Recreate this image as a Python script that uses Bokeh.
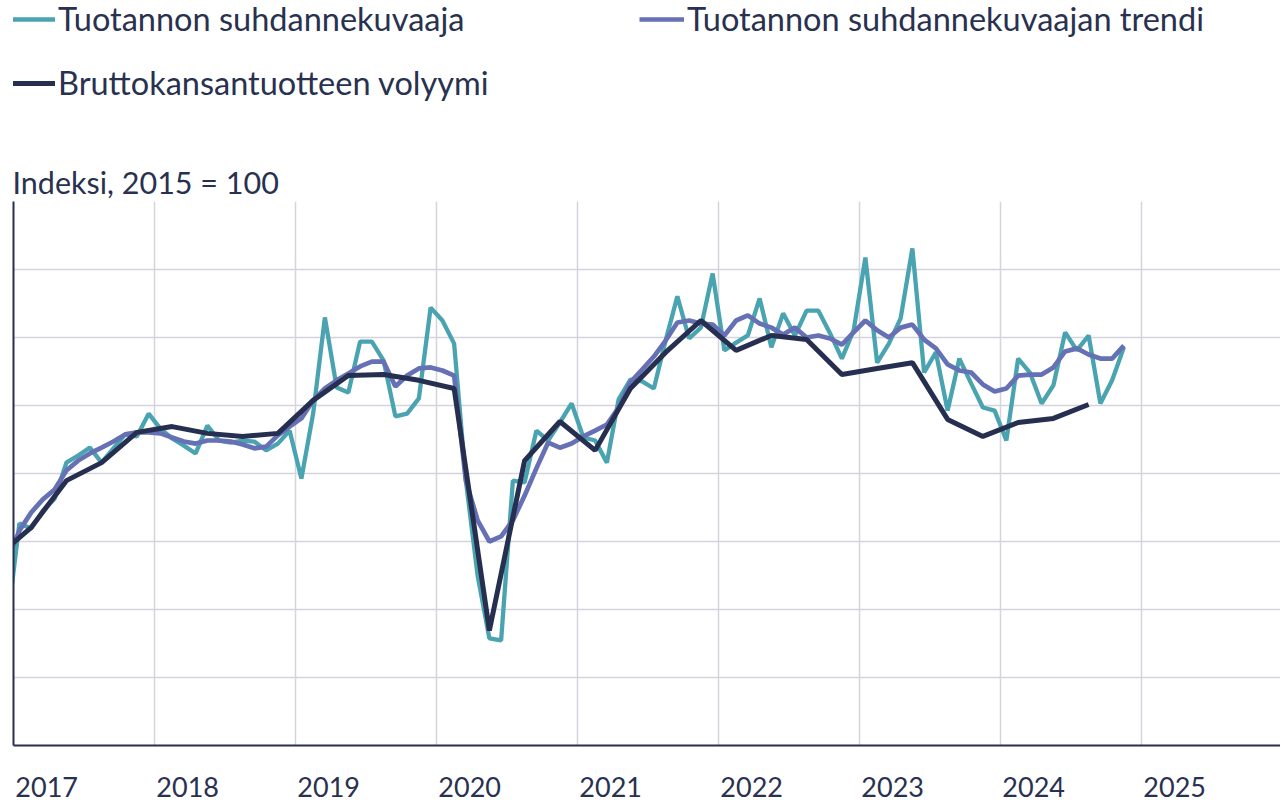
from bokeh.plotting import figure
from bokeh.layouts import column
from bokeh.models import FixedTicker, Legend, LegendItem, Range1d
from bokeh.core.properties import value
from bokeh.embed import file_html
from bokeh.resources import INLINE

# ---- data (index, 2015 = 100) ----
start_month = (2016, 12)   # first monthly observation
start_quarter = (2016, 4)  # first quarterly observation

suhdannekuvaaja = [
    103.68,
    106.53, 106.38, 106.91, 107.26, 108.32, 108.53, 108.76, 108.32, 108.74, 109.15, 109.09, 109.76,
    109.32, 109.03, 108.82, 108.59, 109.41, 108.97, 108.91, 108.97, 108.94, 108.68, 108.88, 109.26,
    107.85, 109.76, 112.59, 110.53, 110.38, 111.88, 111.88, 111.32, 109.68, 109.76, 110.21, 112.88,
    112.50, 111.82, 107.79, 105.00, 103.15, 103.09, 107.79, 107.74, 109.26, 108.97, 109.50, 110.06,
    109.06, 108.97, 108.32, 110.18, 110.76, 110.71, 110.50, 111.91, 113.21, 111.97, 112.29, 113.88,
    111.62, 111.85, 112.06, 113.15, 111.71, 112.71, 112.06, 112.79, 112.79, 112.12, 111.38, 112.21,
    114.35, 111.26, 111.82, 112.56, 114.62, 110.97, 111.56, 109.85, 111.38, 110.65, 109.94, 109.85,
    108.97, 111.38, 110.97, 110.06, 110.59, 112.15, 111.62, 112.06, 110.06, 110.74, 111.71,
]

trendi = [
    105.47,
    106.32, 106.85, 107.24, 107.53, 108.09, 108.38, 108.59, 108.76, 108.94, 109.15, 109.21, 109.21,
    109.18, 109.06, 108.94, 108.88, 108.97, 108.97, 108.94, 108.85, 108.74, 108.79, 109.12, 109.38,
    109.62, 110.15, 110.50, 110.74, 110.94, 111.15, 111.29, 111.29, 110.56, 110.88, 111.09, 111.12,
    111.03, 110.88, 107.79, 106.62, 106.00, 106.15, 106.62, 107.35, 108.15, 108.91, 108.76, 108.88,
    109.09, 109.26, 109.44, 109.94, 110.68, 111.06, 111.44, 111.91, 112.44, 112.50, 112.41, 112.38,
    112.06, 112.50, 112.65, 112.41, 112.29, 112.09, 112.29, 112.00, 112.06, 111.97, 111.79, 112.15,
    112.50, 112.21, 112.00, 112.29, 112.38, 111.94, 111.68, 111.21, 111.03, 110.97, 110.62, 110.41,
    110.50, 110.88, 110.91, 110.91, 111.12, 111.59, 111.68, 111.50, 111.38, 111.38, 111.76,
]

bkt = [
    105.53,
    106.41, 107.79, 108.32, 109.21,
    109.38, 109.18, 109.09, 109.18,
    110.15, 110.88, 110.91, 110.74,
    110.50, 103.38, 108.38, 109.53,
    108.68, 110.50, 111.56, 112.50,
    111.62, 112.06, 111.94, 110.91,
    111.09, 111.26, 109.59, 109.09,
    109.50, 109.62, 110.03,
]

years = [2017, 2018, 2019, 2020, 2021, 2022, 2023, 2024, 2025]
year_labels = ["2017", "2018", "2019", "2020", "2021", "2022", "2023", "2024", "2025"]
y_ticks = [100, 102, 104, 106, 108, 110, 112, 114, 116]

labels = ["Tuotannon suhdannekuvaaja", "Tuotannon suhdannekuvaajan trendi",
          "Bruttokansantuotteen volyymi"]
title_text = "Indeksi, 2015 = 100"

# ---- positions on a fractional-year axis (mid-month / mid-quarter) ----
def month_x(i):
    y0, m0 = start_month
    k = (m0 - 1) + i
    return y0 + k // 12 + ((k % 12) + 0.5) / 12

def quarter_x(i):
    y0, q0 = start_quarter
    k = (q0 - 1) + i
    return y0 + k // 4 + ((k % 4) * 3 + 1.5) / 12

mx = [month_x(i) for i in range(len(suhdannekuvaaja))]
qx = [quarter_x(i) for i in range(len(bkt))]

TEAL = "#4aa3b0"
PURPLE = "#6670b4"
NAVY = "#262f4f"
TEXT = "#28314f"
GRID = "#d4d4dc"
FONT = "Lato"

styles = [dict(line_color=TEAL, line_width=4.3),
          dict(line_color=PURPLE, line_width=4.7),
          dict(line_color=NAVY, line_width=5)]

W = 1280
LEG_H = 120
MAIN_H = 628
LAB_H = 55
LEFT = 13
x_range = Range1d(2017.0, 2017.0 + (W - LEFT) / 141.0)

# ---------------- legend strip ----------------
lf = figure(width=W, height=LEG_H, output_backend="svg", toolbar_location=None,
            x_range=Range1d(0, 1), y_range=Range1d(0, 1),
            x_axis_type=None, y_axis_type=None, min_border=0)
lf.outline_line_color = None
lf.xgrid.visible = False
lf.ygrid.visible = False
# off-screen stand-ins carrying the series styles for the legend
lr = [lf.line([5, 6], [5, 6], **s) for s in styles]
legend = Legend(items=[LegendItem(label=labels[i], renderers=[lr[i]]) for i in range(3)],
                orientation="horizontal", ncols=2,
                location=(-3, 18),
                glyph_width=45, glyph_height=38, label_height=38, label_width=556,
                label_standoff=3, spacing=25, padding=0, margin=0,
                border_line_color=None, background_fill_alpha=0,
                label_text_font=FONT, label_text_font_size="32.5px", label_text_color=TEXT)
lf.add_layout(legend, "center")

# ---------------- main chart ----------------
p = figure(width=W, height=MAIN_H, output_backend="svg", toolbar_location=None,
           x_range=x_range, y_range=Range1d(100, 116),
           min_border_left=LEFT, min_border_right=0, min_border_top=81, min_border_bottom=3)
p.outline_line_color = None

p.line(mx, suhdannekuvaaja, **styles[0])
p.line(mx, trendi, **styles[1])
p.line(qx, bkt, **styles[2])

p.xgrid.ticker = FixedTicker(ticks=years)
p.ygrid.ticker = FixedTicker(ticks=y_ticks)
p.xgrid.grid_line_color = GRID
p.ygrid.grid_line_color = GRID
p.xgrid.grid_line_width = 1.5
p.ygrid.grid_line_width = 1.5

for ax in (p.xaxis, p.yaxis):
    ax.ticker = FixedTicker(ticks=[])
    ax.major_tick_line_color = None
    ax.minor_tick_line_color = None
    ax.major_tick_out = 0
    ax.major_tick_in = 0
    ax.major_label_standoff = 0
    ax.major_label_text_font_size = "0px"
    ax.axis_line_color = NAVY
    ax.axis_line_width = 2

p.title.text = title_text
p.title.align = "left"
p.title.text_font = FONT
p.title.text_font_size = "30.5px"
p.title.text_font_style = "normal"
p.title.text_color = TEXT
p.title.offset = -1
p.title.standoff = 4

# ---------------- year labels strip (shares the x scale) ----------------
bf = figure(width=W, height=LAB_H, output_backend="svg", toolbar_location=None,
            x_range=x_range, y_range=Range1d(-17, 38),
            x_axis_type=None, y_axis_type=None,
            min_border_left=LEFT, min_border_right=0, min_border_top=0, min_border_bottom=0)
bf.outline_line_color = None
bf.xgrid.visible = False
bf.ygrid.visible = False
bf.text(x=[y + 0.235 for y in years], y=[0] * len(years), text=year_labels,
        text_font=value(FONT), text_font_size="27px", text_color=TEXT,
        text_align="center", text_baseline="middle")

layout = column(lf, p, bf, spacing=0)
open("out.html", "w").write(file_html(layout, INLINE))
